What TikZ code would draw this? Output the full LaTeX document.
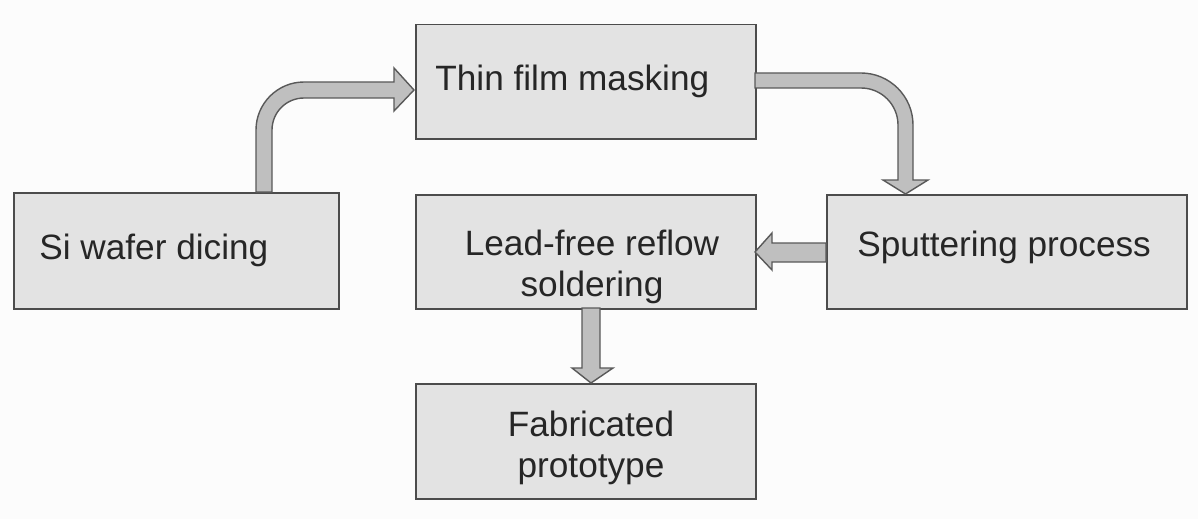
\documentclass[tikz,border=0pt]{standalone}
\usepackage{fontspec}
\setmainfont{Liberation Sans}
\begin{document}
\begin{tikzpicture}[x=0.5pt,y=-0.5pt,
  box/.style={draw=black!70,line width=0.75pt,fill=black!11,anchor=north west,inner sep=0pt,minimum height=57pt},
  lbl/.style={font=\fontsize{17.6}{20.5}\selectfont,inner sep=0pt,text=black!85},
  fat/.style={draw=black!65,line width=0.7pt,fill=black!25,line join=miter}]
\useasboundingbox (0,0) rectangle (1198,519);
\fill[white!99!black] (0,0) rectangle (1198,519);
\node[box,minimum width=162.5pt,minimum height=58pt] (b1) at (13,192) {};
\node[box,minimum width=170pt] (b2) at (415,24) {};
\node[box,minimum width=180pt] (b3) at (826,194) {};
\node[box,minimum width=170pt] (b4) at (415,194) {};
\node[box,minimum width=170pt,minimum height=57.5pt] (b5) at (415,383) {};
\node[lbl,anchor=west] (t1) at (39,250) {Si wafer dicing};
\node[lbl,anchor=west] (t2) at (435,81) {Thin film masking};
\node[lbl,anchor=west] (t3) at (857,247) {Sputtering process};
\node[lbl,align=center] (t4) at (592,267) {Lead-free reflow\\soldering};
\node[lbl,align=center] (t5) at (591,448) {Fabricated\\prototype};
% arrow 1
\draw[fat] (256,192) -- (256,130) .. controls (256,103.5) and (277.5,82) .. (304,82)
  -- (394,82) -- (394,68) -- (414,90) -- (394,111) -- (394,98) -- (304,98)
  .. controls (286.3,98) and (272,112.3) .. (272,130) -- (272,192) -- cycle;
% arrow 2
\draw[fat] (755,73) -- (861,73) .. controls (889.7,73) and (913,96.3) .. (913,125)
  -- (913,180) -- (928,180) -- (905.5,194) -- (883,180) -- (898,180) -- (898,125)
  .. controls (898,104.6) and (881.4,88) .. (861,88) -- (755,88) -- cycle;
% arrow 3
\draw[fat] (826,243) -- (772,243) -- (772,233) -- (755,252) -- (772,270) -- (772,262) -- (826,262) -- cycle;
% arrow 4
\draw[fat] (582,308) -- (582,368) -- (572,368) -- (591,383) -- (613,368) -- (600,368) -- (600,308) -- cycle;
\end{tikzpicture}
\end{document}
